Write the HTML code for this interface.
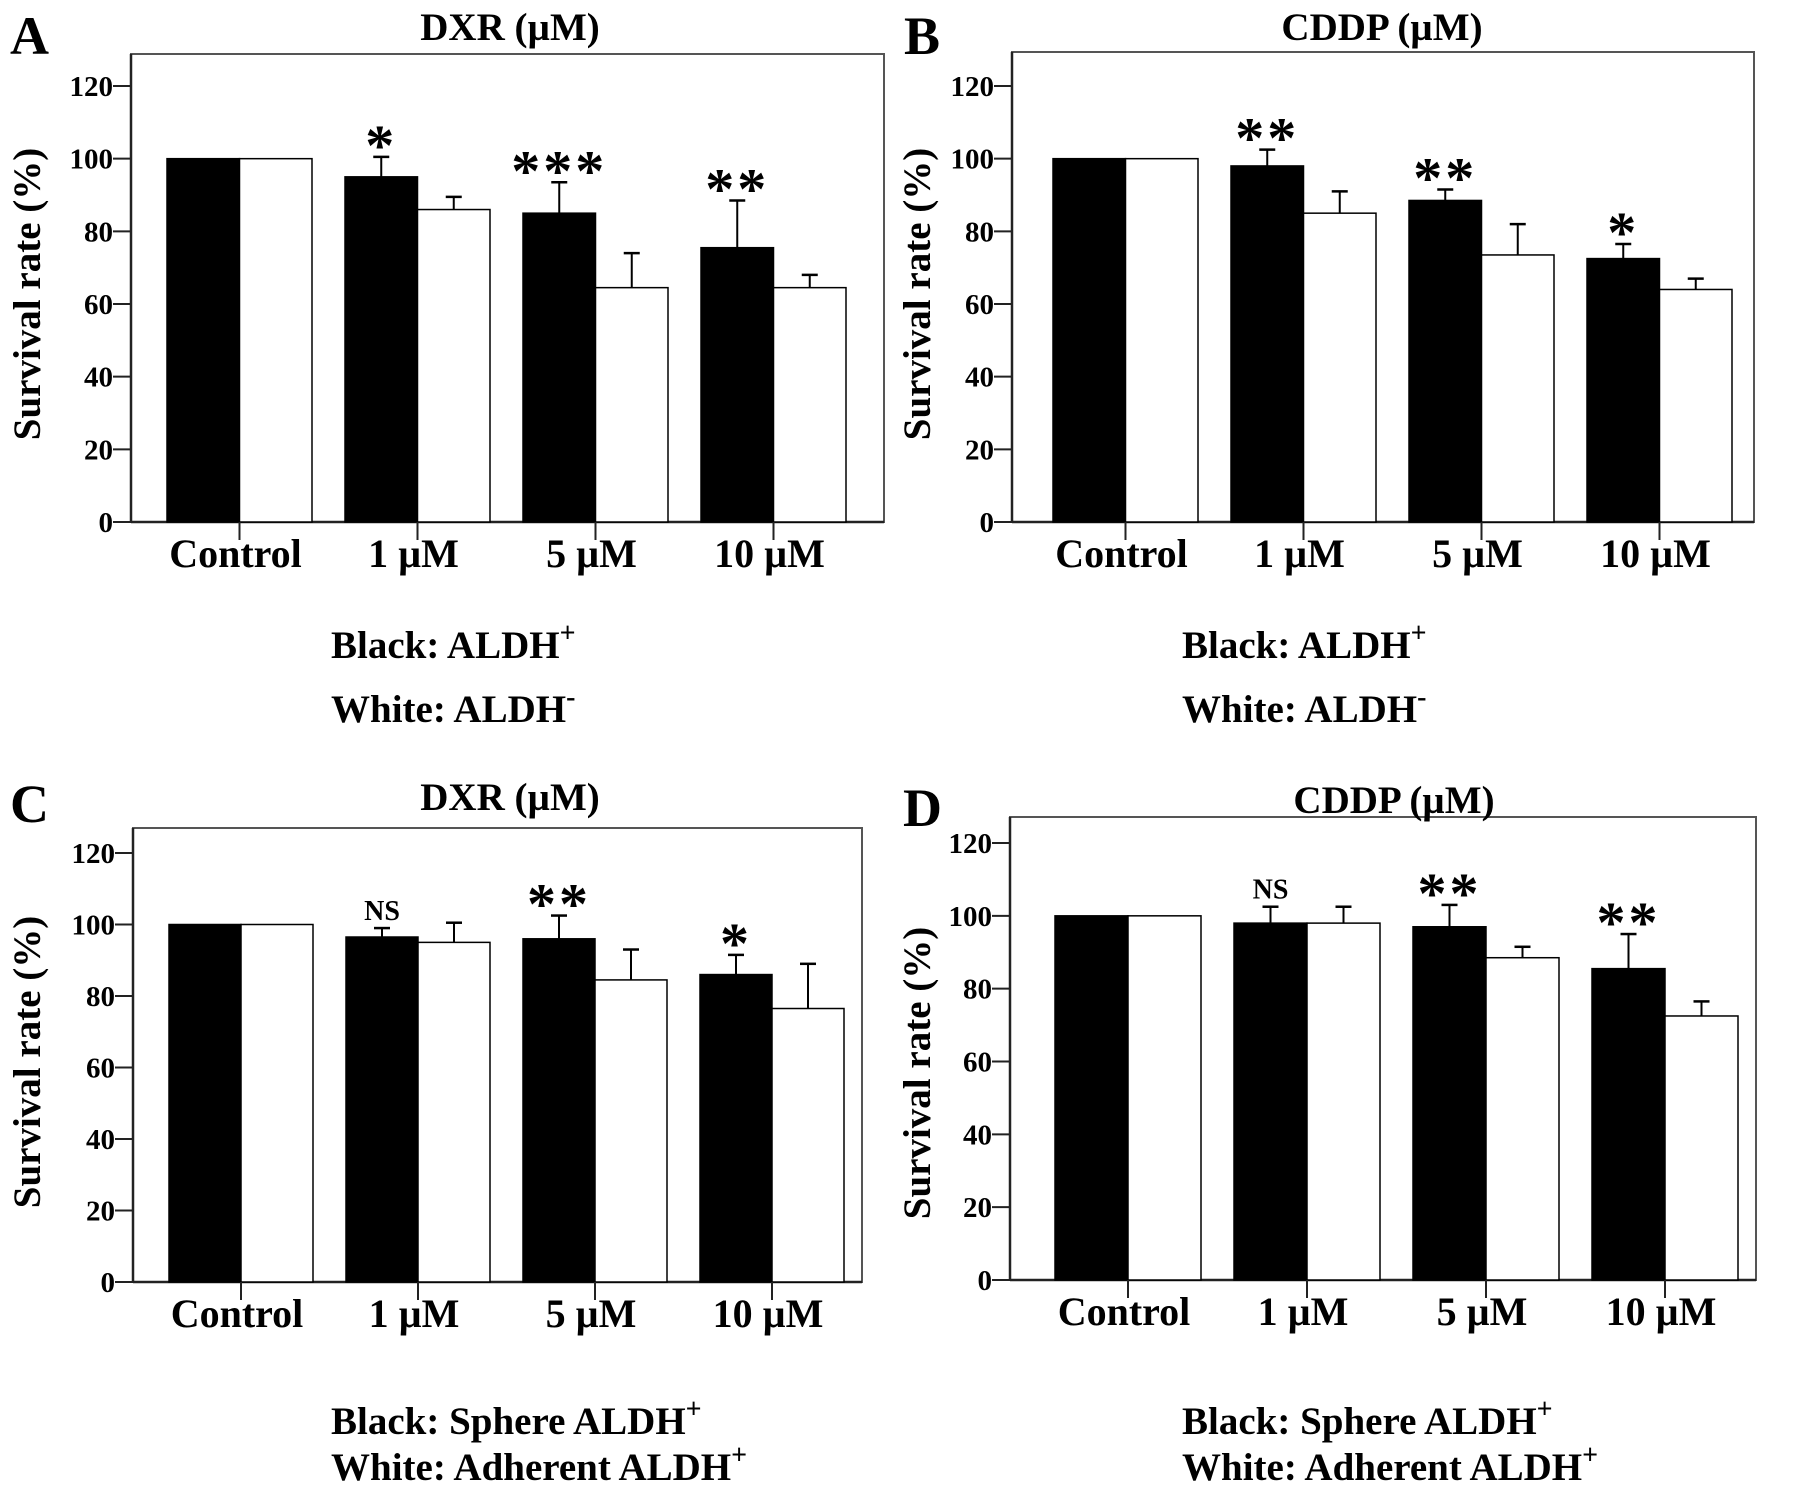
<!DOCTYPE html>
<html><head><meta charset="utf-8"><style>
html,body{margin:0;padding:0;background:#fff;}
svg{display:block;font-family:"Liberation Serif",serif;font-weight:bold;}
</style></head><body>
<svg id="fig" width="1795" height="1492" viewBox="0 0 1795 1492" xmlns="http://www.w3.org/2000/svg"></svg>
<script>
const categories = ["Control","1 µM","5 µM","10 µM"];
const yTicks = [0,20,40,60,80,100,120];
const aBlack = [100,95,85,75.5], aBlackErr = [0,5.5,8.5,13];
const aWhite = [100,86,64.5,64.5], aWhiteErr = [0,3.5,9.5,3.5];
const aSig = ["","*","***","**"];
const bBlack = [100,98,88.5,72.5], bBlackErr = [0,4.5,3,4];
const bWhite = [100,85,73.5,64], bWhiteErr = [0,6,8.5,3];
const bSig = ["","**","**","*"];
const cBlack = [100,96.5,96,86], cBlackErr = [0,2.5,6.5,5.5];
const cWhite = [100,95,84.5,76.5], cWhiteErr = [0,5.5,8.5,12.5];
const cSig = ["","NS","**","*"];
const dBlack = [100,98,97,85.5], dBlackErr = [0,4.5,6,9.5];
const dWhite = [100,98,88.5,72.5], dWhiteErr = [0,4.5,3,4];
const dSig = ["","NS","**","**"];

const NS="http://www.w3.org/2000/svg";
const svg=document.getElementById('fig');
function mk(tag,attrs,parent,text){const e=document.createElementNS(NS,tag);for(const k in attrs)e.setAttribute(k,attrs[k]);if(text!==undefined)e.textContent=text;(parent||svg).appendChild(e);return e;}

function panel(p){
  const g=mk('g',{});
  
  
  const y=v=>p.y0-(v/120)*(p.y0-p.y120);
  const xg=i=>p.bx+i*p.sp;
  const fr=mk('rect',{x:p.L,y:p.T,width:p.R-p.L,height:p.y0-p.T,fill:'none',stroke:'#555','stroke-width':2},g);
  
  
  const pl=mk('text',{x:p.lx,y:p.ly,'font-size':54},g,p.id);
  
  
  const tt=mk('text',{x:p.tx,y:p.ty,'font-size':39,'text-anchor':'middle'},g,p.title);
  
  
  mk('line',{x1:p.L,y1:p.T,x2:p.L,y2:p.y0,stroke:'#222','stroke-width':2.5},g);
  mk('line',{x1:p.L,y1:p.y0,x2:p.R,y2:p.y0,stroke:'#222','stroke-width':2.5},g);
  yTicks.forEach(v=>{
    mk('line',{x1:p.L-18,y1:y(v),x2:p.L,y2:y(v),stroke:'#222','stroke-width':2},g);
    const t=mk('text',{x:p.L-18,y:y(v)+10,'font-size':29,'text-anchor':'end'},g,String(v));
    
    
  });
  const yt=mk('text',{x:0,y:0,'font-size':39,'text-anchor':'middle',transform:`translate(${p.yax},${p.yay}) rotate(-90)`},g,'Survival rate (%)');
  
  
  categories.forEach((c,i)=>{
    const x0=xg(i), cx=x0+p.bw;
    const hb=y(p.black[i]), hw=y(p.white[i]);
    [[p.black,p.bErr,x0],[p.white,p.wErr,x0+p.bw]].forEach(([vals,errs,bx])=>{
      if(errs[i]>0){const xc=bx+p.bw/2,t=y(vals[i]+errs[i]);
        mk('line',{x1:xc,y1:y(vals[i]),x2:xc,y2:t,stroke:'#000','stroke-width':2},g);
        mk('line',{x1:xc-8,y1:t,x2:xc+8,y2:t,stroke:'#000','stroke-width':2.5},g);}
    });
    const b=mk('rect',{x:x0,y:hb,width:p.bw,height:p.y0-hb,fill:'#000',stroke:'#000','stroke-width':1.5},g);
    
    
    const w=mk('rect',{x:x0+p.bw,y:hw,width:p.bw,height:p.y0-hw,fill:'#fff',stroke:'#000','stroke-width':1.5},g);
    
    
    mk('line',{x1:cx,y1:p.y0,x2:cx,y2:p.y0+18,stroke:'#222','stroke-width':2},g);
    const cl=mk('text',{x:cx-4,y:p.y0+45,'font-size':40,'text-anchor':'middle'},g,c);
    
    
    if(p.sig[i]){
      const top=y(p.black[i]+p.bErr[i]);
      const isNS=p.sig[i]==='NS';
      const s=mk('text',{x:x0+p.bw/2,y:isNS?top-8:top+8,'font-size':isNS?28:58,'text-anchor':'middle','letter-spacing':isNS?0:3},g,p.sig[i]);
      
      
    }
  });
  const l1=mk('text',{x:p.gx,y:p.g1,'font-size':39},g);
  
  
  l1.appendChild(document.createTextNode(p.leg1));
  mk('tspan',{dy:-16,'font-size':28},l1,'+');
  const l2=mk('text',{x:p.gx,y:p.g2,'font-size':39},g);
  
  
  l2.appendChild(document.createTextNode(p.leg2));
  mk('tspan',{dy:-16,'font-size':28},l2,p.sup2);
}
panel({id:'A',title:'DXR (µM)',L:131,T:54,R:884,y0:522,y120:86,bx:167,bw:72.5,sp:178,lx:10,ly:54,tx:510,ty:40,yax:40,yay:294,
  black:aBlack,bErr:aBlackErr,white:aWhite,wErr:aWhiteErr,sig:aSig,gx:331,g1:658,g2:722,leg1:'Black: ALDH',leg2:'White: ALDH',sup2:'-'});
panel({id:'B',title:'CDDP (µM)',L:1012,T:52,R:1754,y0:522,y120:86,bx:1053,bw:72.5,sp:178,lx:904,ly:54,tx:1382,ty:40,yax:930,yay:294,
  black:bBlack,bErr:bBlackErr,white:bWhite,wErr:bWhiteErr,sig:bSig,gx:1182,g1:658,g2:722,leg1:'Black: ALDH',leg2:'White: ALDH',sup2:'-'});
panel({id:'C',title:'DXR (µM)',L:133,T:828,R:862,y0:1282,y120:853,bx:169,bw:72,sp:177,lx:10,ly:822,tx:510,ty:810,yax:40,yay:1062,
  black:cBlack,bErr:cBlackErr,white:cWhite,wErr:cWhiteErr,sig:cSig,gx:331,g1:1434,g2:1480,leg1:'Black: Sphere ALDH',leg2:'White: Adherent ALDH',sup2:'+'});
panel({id:'D',title:'CDDP (µM)',L:1010,T:817,R:1756,y0:1280,y120:843,bx:1055,bw:73,sp:179,lx:903,ly:826,tx:1394,ty:813,yax:930,yay:1073,
  black:dBlack,bErr:dBlackErr,white:dWhite,wErr:dWhiteErr,sig:dSig,gx:1182,g1:1434,g2:1480,leg1:'Black: Sphere ALDH',leg2:'White: Adherent ALDH',sup2:'+'});
</script>
</body></html>
